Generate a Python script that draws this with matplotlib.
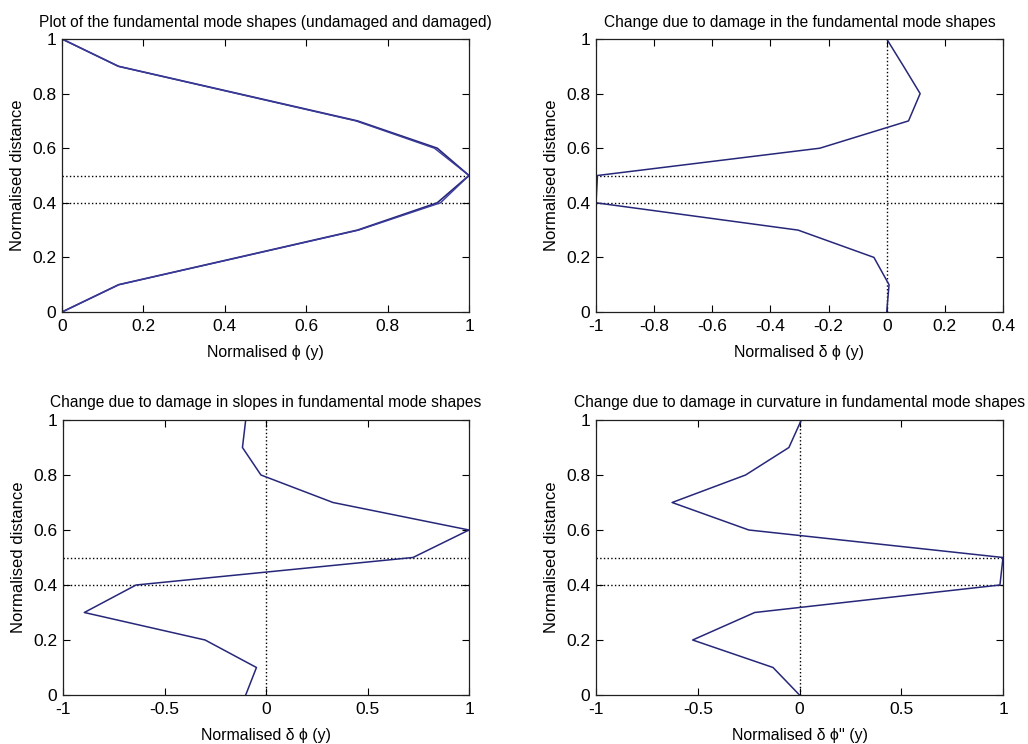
import matplotlib
matplotlib.use("Agg")
import matplotlib.pyplot as plt
import numpy as np

# ---- data ----
dist = [0.0, 0.1, 0.2, 0.3, 0.4, 0.5, 0.6, 0.7, 0.8, 0.9, 1.0]
phi_undamaged = [0.0, 0.139, 0.433, 0.726, 0.922, 1.0, 0.922, 0.726, 0.433, 0.139, 0.0]
phi_damaged = [0.0, 0.140, 0.435, 0.729, 0.930, 1.0, 0.915, 0.722, 0.430, 0.138, 0.0]
dphi = [0.0, 0.008, -0.044, -0.305, -1.0, -0.995, -0.23, 0.075, 0.115, 0.058, 0.0]
dslope = [-0.10, -0.047, -0.30, -0.895, -0.64, 0.724, 1.0, 0.33, -0.025, -0.116, -0.10]
dcurv = [0.0, -0.13, -0.525, -0.22, 0.985, 1.0, -0.249, -0.626, -0.265, -0.052, 0.009]
damage_bounds = [0.4, 0.5]

titles = [
    "Plot of the fundamental mode shapes (undamaged and damaged)",
    "Change due to damage in the fundamental mode shapes",
    "Change due to damage in slopes in fundamental mode shapes",
    "Change due to damage in curvature in fundamental mode shapes",
]
xlabels = ["Normalised \u03d5 (y)", "Normalised \u03b4 \u03d5 (y)",
           "Normalised \u03b4 \u03d5 (y)", "Normalised \u03b4 \u03d5'' (y)"]
xticks_list = [
    [0, 0.2, 0.4, 0.6, 0.8, 1],
    [-1, -0.8, -0.6, -0.4, -0.2, 0, 0.2, 0.4],
    [-1, -0.5, 0, 0.5, 1],
    [-1, -0.5, 0, 0.5, 1],
]
xticklabels_list = [
    ["0", "0.2", "0.4", "0.6", "0.8", "1"],
    ["-1", "-0.8", "-0.6", "-0.4", "-0.2", "0", "0.2", "0.4"],
    ["-1", "-0.5", "0", "0.5", "1"],
    ["-1", "-0.5", "0", "0.5", "1"],
]
xlims = [(0, 1), (-1, 0.4), (-1, 1), (-1, 1)]
yticks = [0, 0.2, 0.4, 0.6, 0.8, 1]
yticklabels = ["0", "0.2", "0.4", "0.6", "0.8", "1"]

plt.rcParams['font.family'] = ['Liberation Sans', 'DejaVu Sans']
TICK_FS = 12.5
TITLE_FS = 11.2
XLAB_FS = 11.4
YLAB_FS = 12.0
line_col = '#27277a'

fig = plt.figure(figsize=(10.28, 7.44), dpi=100)
W, H = 1028, 744
boxes = [
    (62, 39, 469, 312),
    (596, 39, 1003, 312),
    (63, 420, 469, 695),
    (596, 420, 1003, 695),
]
axes = []
for (l, t, r, b) in boxes:
    ax = fig.add_axes([l / W, 1 - b / H, (r - l) / W, (b - t) / H])
    axes.append(ax)

series = [None, dphi, dslope, dcurv]
for i, ax in enumerate(axes):
    x0, x1 = xlims[i]
    for yb in damage_bounds:
        ax.plot([x0, x1], [yb, yb], linestyle=':', color='black', linewidth=1.0)
    if i == 0:
        ax.plot(phi_undamaged, dist, color=line_col, linewidth=1.2)
        ax.plot(phi_damaged, dist, color='#3a3a9a', linewidth=1.0)
    else:
        ax.plot([0, 0], [0, 1], linestyle=':', color='black', linewidth=1.0)
        ax.plot(series[i], dist, color=line_col, linewidth=1.1)
    ax.set_xlim(x0, x1)
    ax.set_ylim(0, 1)
    ax.set_xticks(xticks_list[i])
    ax.set_xticklabels(xticklabels_list[i])
    ax.set_yticks(yticks)
    ax.set_yticklabels(yticklabels)
    ax.tick_params(direction='in', top=True, right=True, length=5, width=0.8,
                   labelsize=TICK_FS)
    ax.tick_params(axis='x', pad=5)
    ax.tick_params(axis='y', pad=4)
    for sp in ax.spines.values():
        sp.set_linewidth(0.9)
        sp.set_color('#202020')
    ax.set_title(titles[i], fontsize=TITLE_FS, pad=9)
    ax.set_xlabel(xlabels[i], fontsize=XLAB_FS, labelpad=8)
    ax.set_ylabel("Normalised distance", fontsize=YLAB_FS, labelpad=5)

fig.savefig("out.png", dpi=100)
